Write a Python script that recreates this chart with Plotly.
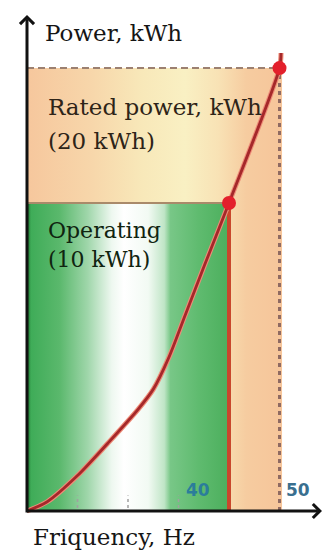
import plotly.graph_objects as go

# ---- data (schematic drawing; power axis is not to scale, levels as drawn) ----
freq_hz = [0, 4.0, 10.0, 16.0, 22.0, 25.0, 28.0, 31.3, 35.2, 40.0, 50.0, 50.3]
power_curve = [0, 0.30, 1.15, 2.20, 3.30, 3.95, 4.95, 6.35, 8.00, 10.0, 14.38, 14.87]

operating_freq = 40
rated_freq = 50
operating_level = 10.0      # drawn height of "Operating (10 kWh)"
rated_level = 14.38         # drawn height of "Rated power (20 kWh)"
rated_band_edge = 50.5
minor_ticks = [10, 20, 30]
tick_labels = ["40", "50"]
tick_positions = [operating_freq, rated_freq]

W, H = 326, 555
X0_PX, Y0_PX = 27, 511
PX_PER_HZ = 5.05
PX_PER_UNIT = 30.8

x_range = [-X0_PX / PX_PER_HZ, (W - X0_PX) / PX_PER_HZ]
y_range = [-(H - Y0_PX) / PX_PER_UNIT, Y0_PX / PX_PER_UNIT]

fig = go.Figure()

# rated (orange) band with horizontal gradient
fig.add_trace(go.Scatter(
    x=[0, rated_band_edge, rated_band_edge, 0, 0],
    y=[0, 0, rated_level, rated_level, 0],
    mode="lines", line=dict(width=0), fill="toself",
    fillgradient=dict(type="horizontal", colorscale=[
        [0.0, "#f6c79d"], [0.25, "#f7d6aa"], [0.45, "#f8e8b9"],
        [0.62, "#f9f0c3"], [0.75, "#f8e2b5"], [0.86, "#f6cca0"], [1.0, "#f6c59a"]]),
    hoverinfo="skip", showlegend=False))

# operating (green) band with horizontal gradient
fig.add_trace(go.Scatter(
    x=[0, operating_freq, operating_freq, 0, 0],
    y=[0, 0, operating_level, operating_level, 0],
    mode="lines", line=dict(width=0), fill="toself",
    fillgradient=dict(type="horizontal", colorscale=[
        [0.0, "#1d6e2e"], [0.02, "#3fac58"], [0.16, "#5ab86c"], [0.30, "#9fd6aa"],
        [0.42, "#eef8f0"], [0.48, "#ffffff"], [0.60, "#f2faf3"], [0.68, "#bfe5c6"],
        [0.71, "#78c787"], [0.85, "#5fbb6f"], [1.0, "#4caf5d"]]),
    hoverinfo="skip", showlegend=False))

# green top edge
fig.add_trace(go.Scatter(x=[0, operating_freq], y=[operating_level, operating_level],
                         mode="lines", line=dict(color="#a98a6a", width=2),
                         hoverinfo="skip", showlegend=False))
# rated dashed top
fig.add_trace(go.Scatter(x=[0, rated_freq], y=[rated_level, rated_level],
                         mode="lines", line=dict(color="#9c8070", width=2, dash="7px,4px"),
                         hoverinfo="skip", showlegend=False))
# rated dotted vertical
fig.add_trace(go.Scatter(x=[rated_freq, rated_freq], y=[0, rated_level],
                         mode="lines", line=dict(color="#8f6a62", width=3, dash="4px,4px"),
                         hoverinfo="skip", showlegend=False))
# operating vertical (solid red)
fig.add_trace(go.Scatter(x=[operating_freq, operating_freq], y=[0, operating_level],
                         mode="lines", line=dict(color="#c9472c", width=4),
                         hoverinfo="skip", showlegend=False))
# minor ticks
for t in minor_ticks:
    fig.add_trace(go.Scatter(x=[t, t], y=[0.1, 0.5], mode="lines",
                             line=dict(color="#a0a0a0", width=1.5, dash="dot"),
                             hoverinfo="skip", showlegend=False))

# power curve (halo + core)
fig.add_trace(go.Scatter(x=freq_hz, y=power_curve, mode="lines",
                         line=dict(color="#ee8c78", width=5, shape="spline", smoothing=0.8),
                         hoverinfo="skip", showlegend=False))
fig.add_trace(go.Scatter(x=freq_hz, y=power_curve, mode="lines",
                         line=dict(color="#a5282a", width=2.8, shape="spline", smoothing=0.8),
                         hoverinfo="skip", showlegend=False))

# points
fig.add_trace(go.Scatter(x=[operating_freq, rated_freq], y=[operating_level, rated_level],
                         mode="markers", marker=dict(color="#e3202c", size=14),
                         hoverinfo="skip", showlegend=False))

# axes with arrows
fig.add_annotation(x=(322 - X0_PX) / PX_PER_HZ, y=0, ax=-0.3, ay=0,
                   xref="x", yref="y", axref="x", ayref="y",
                   showarrow=True, arrowhead=4, arrowsize=0.9, arrowwidth=3,
                   arrowcolor="#111111", text="")
fig.add_annotation(x=0, y=(Y0_PX - 15) / PX_PER_UNIT, ax=0, ay=-0.1,
                   xref="x", yref="y", axref="x", ayref="y",
                   showarrow=True, arrowhead=4, arrowsize=0.9, arrowwidth=3,
                   arrowcolor="#111111", text="")

# tick labels
tick_colors = ["#2b7d9b", "#3a6f8f"]
tick_dx = [-6.05, 3.6]
for lab, pos, col, dx in zip(tick_labels, tick_positions, tick_colors, tick_dx):
    fig.add_annotation(x=pos + dx, y=0.68,
                       xref="x", yref="y", text=lab, showarrow=False,
                       font=dict(family="DejaVu Sans", size=17, color=col, weight="bold"))

def px_text(text, left, mid, size, color):
    fig.add_annotation(x=left / W, y=1 - mid / H, xref="paper", yref="paper",
                       xanchor="left", yanchor="middle", text=text, showarrow=False,
                       font=dict(family="DejaVu Serif", size=size, color=color))

px_text("Power, kWh", 43, 33, 23, "#151515")
px_text("Rated power, kWh", 46, 107, 23, "#2e2418")
px_text("(20 kWh)", 46, 141, 23, "#2e2418")
px_text("Operating", 46, 230, 22, "#102410")
px_text("(10 kWh)", 46, 259, 22, "#102410")
px_text("Friquency, Hz", 31, 537, 23, "#151515")

fig.update_xaxes(range=x_range, visible=False)
fig.update_yaxes(range=y_range, visible=False)
fig.update_layout(width=W, height=H, margin=dict(l=0, r=0, t=0, b=0),
                  paper_bgcolor="white", plot_bgcolor="white", showlegend=False)

fig.write_html("out.html")
